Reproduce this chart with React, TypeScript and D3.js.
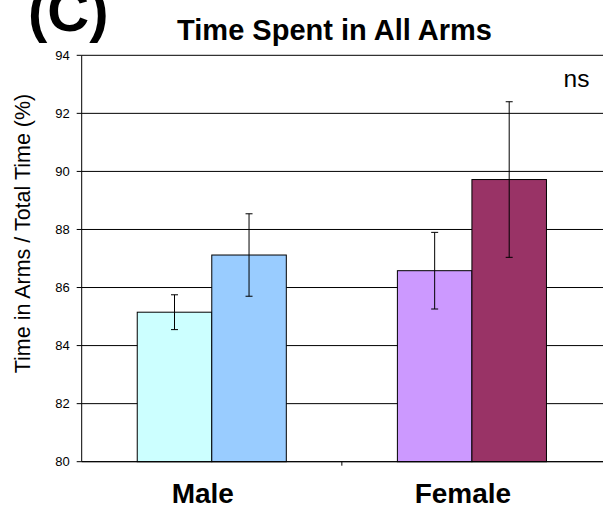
import React from "react";
import * as d3 from "d3";

// Group categories and the two bars drawn inside each group
const categories = ["Male", "Female"];
const barValues = [
  [85.15, 87.12],
  [86.58, 89.72],
];
const barErrors = [
  [0.6, 1.42],
  [1.32, 2.68],
];
const barColors = [
  ["#CCFFFF", "#99CCFF"],
  ["#CC99FF", "#993366"],
];
const yTicks = [80, 82, 84, 86, 88, 90, 92, 94];

const W = 603;
const H = 511;
const margin = { left: 81.7, right: 1, top: 55.3, bottom: 49.3 };
const FONT = "'Liberation Sans', Arial, Helvetica, sans-serif";

export default function App() {
  const x0 = margin.left;
  const x1 = W - margin.right;
  const yTop = margin.top;
  const yBot = H - margin.bottom;

  const y = d3.scaleLinear().domain([80, 94]).range([yBot, yTop]);
  const xBand = d3
    .scaleBand<string>()
    .domain(categories)
    .range([x0, x1])
    .paddingInner(0.427)
    .paddingOuter(0.2135);
  const xInner = d3
    .scaleBand<number>()
    .domain([0, 1])
    .range([0, xBand.bandwidth()]);

  const capHalf = 3.5;

  return (
    <svg
      width={W}
      height={H}
      style={{ position: "absolute", left: 0, top: 0, background: "#fff" }}
      fontFamily={FONT}
    >
      {/* panel letter */}
      <text x={28} y={31} fontSize={58} fontWeight="bold" fill="#000">
        (C)
      </text>
      {/* title */}
      <text
        x={334.5}
        y={40}
        fontSize={29}
        fontWeight="bold"
        textAnchor="middle"
        fill="#000"
      >
        Time Spent in All Arms
      </text>

      {/* horizontal gridlines */}
      {yTicks.map((t) => (
        <line
          key={"g" + t}
          x1={x0}
          x2={x1 + 1}
          y1={y(t)}
          y2={y(t)}
          stroke="#000"
          strokeWidth={1}
        />
      ))}

      {/* bars */}
      {categories.map((c, gi) =>
        barValues[gi].map((v, si) => {
          const bx = (xBand(c) as number) + (xInner(si) as number);
          return (
            <rect
              key={c + si}
              x={bx}
              y={y(v)}
              width={xInner.bandwidth()}
              height={y(80) - y(v)}
              fill={barColors[gi][si]}
              stroke="#000"
              strokeWidth={1}
            />
          );
        })
      )}

      {/* error bars */}
      {categories.map((c, gi) =>
        barValues[gi].map((v, si) => {
          const cx =
            (xBand(c) as number) +
            (xInner(si) as number) +
            xInner.bandwidth() / 2;
          const e = barErrors[gi][si];
          return (
            <g key={"e" + c + si} stroke="#000" strokeWidth={1}>
              <line x1={cx} x2={cx} y1={y(v + e)} y2={y(v - e)} />
              <line x1={cx - capHalf} x2={cx + capHalf} y1={y(v + e)} y2={y(v + e)} />
              <line x1={cx - capHalf} x2={cx + capHalf} y1={y(v - e)} y2={y(v - e)} />
            </g>
          );
        })
      )}

      {/* y axis */}
      <line x1={x0} x2={x0} y1={yTop} y2={yBot} stroke="#000" strokeWidth={1} />
      {yTicks.map((t) => (
        <g key={"t" + t}>
          <line x1={x0 - 5} x2={x0} y1={y(t)} y2={y(t)} stroke="#000" />
          <text
            x={x0 - 12}
            y={y(t)}
            dy="0.35em"
            fontSize={13}
            textAnchor="end"
            fill="#000"
          >
            {t}
          </text>
        </g>
      ))}
      <text
        transform={`translate(22,233.5) rotate(-90)`}
        fontSize={21.5}
        textAnchor="middle"
        dy="0.35em"
        fill="#000"
      >
        Time in Arms / Total Time (%)
      </text>

      {/* x axis */}
      <line x1={x0} x2={x1 + 1} y1={yBot} y2={yBot} stroke="#000" strokeWidth={1} />
      <line
        x1={(x0 + x1) / 2}
        x2={(x0 + x1) / 2}
        y1={yBot}
        y2={yBot + 4}
        stroke="#000"
      />
      {categories.map((c) => (
        <text
          key={"l" + c}
          x={(xBand(c) as number) + xBand.bandwidth() / 2 - 9}
          y={503}
          fontSize={28}
          fontWeight="bold"
          textAnchor="middle"
          fill="#000"
        >
          {c}
        </text>
      ))}

      {/* significance note */}
      <text x={589.5} y={87} fontSize={24.5} textAnchor="end" fill="#000">
        ns
      </text>
    </svg>
  );
}
